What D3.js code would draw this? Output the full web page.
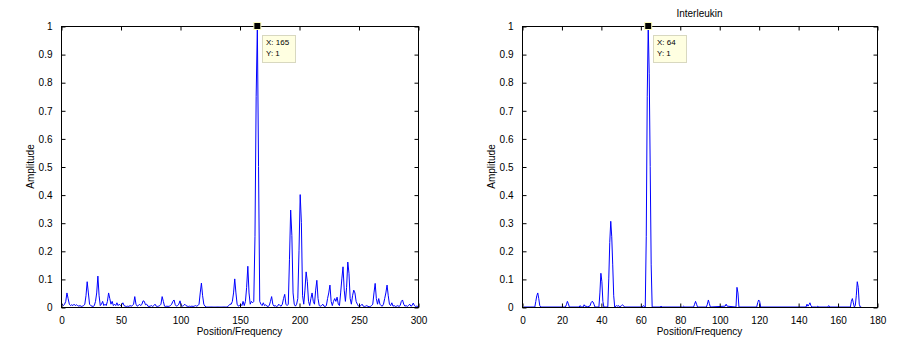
<!DOCTYPE html>
<html><head><meta charset="utf-8">
<script src="https://cdn.jsdelivr.net/npm/d3@7"></script>
<style>
html,body{margin:0;padding:0;background:#fff;}
svg{display:block;font-family:Arial,"Liberation Sans",Helvetica,sans-serif;}
</style></head>
<body>
<svg id="chart" width="922" height="344"></svg>
<script>
// ----- Data -----
const ampLeft = [
0.01,0.005,0.01,0.02,0.05,0.03,0.01,0.005,0.008,0.005,
0.01,0.005,0.008,0.005,0.003,0.005,0.002,0.003,0.005,0.01,
0.04,0.09,0.05,0.01,0.005,0.003,0.002,0.005,0.02,0.05,
0.11,0.04,0.005,0.01,0.02,0.005,0.01,0.005,0.02,0.05,
0.03,0.01,0.02,0.005,0.01,0.005,0.015,0.005,0.01,0.005,
0.008,0.015,0.005,0.003,0.002,0.003,0.002,0.005,0.003,0.005,
0.01,0.037,0.01,0.003,0.005,0.01,0.005,0.01,0.022,0.02,
0.008,0.01,0.003,0.002,0.003,0.005,0.002,0.005,0.01,0.003,
0.002,0.003,0.005,0.01,0.037,0.02,0.003,0.002,0.003,0.002,
0.003,0.005,0.01,0.02,0.025,0.008,0.003,0.005,0.01,0.022,
0.005,0.003,0.005,0.01,0.005,0.003,0.002,0.003,0.002,0.003,
0.002,0.003,0.005,0.003,0.005,0.01,0.05,0.085,0.04,0.01,
0.003,0,0,0,0,0,0,0,0,0,
0,0,0,0,0,0,0,0,0,0.002,
0.005,0.01,0.01,0.02,0.05,0.1,0.05,0.01,0.003,0.005,
0.01,0.005,0.02,0.005,0.02,0.07,0.145,0.05,0.01,0.02,
0.015,0.02,0.25,0.75,1,0.5,0.02,0.01,0.005,0.015,
0.005,0.008,0.003,0.002,0.005,0.02,0.037,0.01,0.003,0.005,
0.002,0.003,0.01,0.005,0.003,0.01,0.03,0.045,0.01,0.005,
0.01,0.17,0.345,0.255,0.05,0.01,0.003,0.01,0.03,0.2,
0.4,0.3,0.04,0.01,0.06,0.125,0.09,0.02,0.005,0.03,
0.05,0.02,0.01,0.06,0.095,0.03,0.005,0.003,0.005,0.01,
0.003,0.002,0.005,0.03,0.05,0.078,0.02,0.005,0.02,0.03,
0.02,0.035,0.01,0.005,0.05,0.1,0.143,0.06,0.02,0.07,
0.16,0.12,0.03,0.01,0.04,0.06,0.05,0.02,0.01,0.003,
0.002,0.005,0.01,0.003,0.002,0.003,0.005,0.002,0.001,0.002,
0.005,0.01,0.05,0.084,0.03,0.01,0.03,0.01,0.005,0.003,
0.01,0.03,0.05,0.078,0.04,0.01,0.005,0.015,0.003,0.005,
0.002,0.003,0.005,0.002,0.005,0.02,0.025,0.01,0.003,0.005,
0.002,0.005,0.01,0.003,0.005,0.014,0.005,0.002,0.003,0.002
];
const posLeft = ampLeft.map((_, i) => i + 1);

const posRight = [1,6.5,7,7.5,8,8.5,9,9.5,22,22.5,23,23.5,24,29,29.5,30,31,31.5,32,32.5,33,
34.5,35,35.5,36,36.5,37,39,39.5,40,40.5,41,41.5,43.5,44,44.5,45,45.5,46,46.5,47,48,48.5,49,49.5,
50.5,51,51.5,52,61,61.5,62,62.5,63,63.5,64,64.5,65,65.5,66,70,70.5,71,81.5,82,82.5,87,87.5,88,88.5,89,
93.5,94,94.5,95,95.5,103,103.5,104,108.5,109,109.5,110,119,119.5,120,120.5,121,144,144.5,145,145.5,146,146.5,147,
149.5,150,150.5,155,155.5,156,166.5,167,167.5,168,168.5,169,169.5,170,170.5,171,171.5,172];
const ampRight = [0,0,0.02,0.04,0.05,0.03,0.005,0,0,0.008,0.02,0.012,0,0,0.005,0,0,0.008,0.002,0.004,0,
0.004,0.015,0.02,0.018,0.01,0,0,0.05,0.12,0.09,0.02,0,0,0.1,0.23,0.305,0.25,0.15,0.04,0,0.005,0.003,0.005,0,
0.005,0.008,0.004,0,0,0.005,0.002,0,0.25,0.75,1,0.83,0.5,0.15,0,0,0.003,0,0,0.003,0,0,0.01,0.02,0.01,0,
0,0.01,0.025,0.012,0,0.003,0.01,0.003,0,0.07,0.05,0,0,0.015,0.025,0.02,0,0,0.01,0.003,0.008,0.015,0.005,0,
0,0.003,0,0,0.005,0,0,0.02,0.03,0.015,0,0.005,0.04,0.09,0.07,0.01,0,0];

const yTicks = [0,0.1,0.2,0.3,0.4,0.5,0.6,0.7,0.8,0.9,1];
const xTicksLeft = [0,50,100,150,200,250,300];
const xTicksRight = [0,20,40,60,80,100,120,140,160,180];
const tipLeft = {x:165, y:1};
const tipRight = {x:64, y:1};
const titleRight = "Interleukin";
const xLabel = "Position/Frequency";
const yLabel = "Amplitude";

// ----- Drawing -----
const svg = d3.select("#chart");

function panel(opt) {
  const {x0, x1, y0, y1, xmax, xTicks, xs, ys, tip, title} = opt;
  const x = d3.scaleLinear().domain([0, xmax]).range([x0, x1]);
  const y = d3.scaleLinear().domain([0, 1]).range([y1, y0]);
  const g = svg.append("g");
  const tl = 4;

  // data line
  const line = d3.line().x(d => x(d[0])).y(d => y(d[1]));
  g.append("path").datum(xs.map((v, i) => [v, ys[i]]))
    .attr("d", line).attr("fill", "none").attr("stroke", "#0000ff").attr("stroke-width", 1);

  // box
  g.append("rect").attr("x", x0 + 0.5).attr("y", y0 + 0.5)
    .attr("width", x1 - x0).attr("height", y1 - y0)
    .attr("fill", "none").attr("stroke", "#000").attr("stroke-width", 1);

  // axes via d3 axis (inward ticks)
  const axB = d3.axisBottom(x).tickValues(xTicks).tickSizeInner(-tl).tickSizeOuter(0).tickPadding(9).tickFormat(d3.format("d"));
  const gb = g.append("g").attr("transform", `translate(0.5,${y1 + 0.5})`).call(axB);
  const axT = d3.axisTop(x).tickValues(xTicks).tickSizeInner(-tl).tickSizeOuter(0).tickFormat("");
  const gt = g.append("g").attr("transform", `translate(0.5,${y0 + 0.5})`).call(axT);
  const axL = d3.axisLeft(y).tickValues(yTicks).tickSizeInner(-tl).tickSizeOuter(0).tickPadding(9).tickFormat(d => d3.format("")(+d.toFixed(1)));
  const gl = g.append("g").attr("transform", `translate(${x0 + 0.5},0.5)`).call(axL);
  const axR = d3.axisRight(y).tickValues(yTicks).tickSizeInner(-tl).tickSizeOuter(0).tickFormat("");
  const gr = g.append("g").attr("transform", `translate(${x1 + 0.5},0.5)`).call(axR);
  [gb, gt, gl, gr].forEach(a => {
    a.select(".domain").remove();
    a.selectAll("line").attr("stroke", "#000");
    a.selectAll("text").attr("fill", "#000").style("font-size", "10px")
      .style("font-family", "Arial, 'Liberation Sans', sans-serif");
  });

  // labels
  g.append("text").attr("x", (x0 + x1) / 2).attr("y", 335).attr("text-anchor", "middle")
    .style("font-size", "10px").text(xLabel);
  g.append("text").attr("transform", `translate(${x0 - 27},${(y0 + y1) / 2}) rotate(-90)`)
    .attr("text-anchor", "middle").style("font-size", "10px").text(yLabel);
  if (title) {
    g.append("text").attr("x", (x0 + x1) / 2).attr("y", 17).attr("text-anchor", "middle")
      .style("font-size", "10px").text(title);
  }

  // data tip
  const px = x(tip.x), py = y(tip.y);
  const bx = Math.round(px) + 5, by = py + 9;
  g.append("rect").attr("x", bx + 0.5).attr("y", by + 0.5).attr("width", 33).attr("height", 27)
    .attr("fill", "#ffffe1").attr("stroke", "#d8d8c0").attr("stroke-width", 1);
  g.append("text").attr("x", bx + 4).attr("y", by + 10).style("font-size", "8px").text("X: " + tip.x);
  g.append("text").attr("x", bx + 4).attr("y", by + 21).style("font-size", "8px").text("Y: " + tip.y);
  g.append("rect").attr("x", px - 3.5).attr("y", py - 3.5).attr("width", 7).attr("height", 7)
    .attr("fill", "#000").attr("stroke", "#ffffc0").attr("stroke-width", 1);
}

panel({x0: 61, x1: 418, y0: 26, y1: 307, xmax: 300, xTicks: xTicksLeft,
  xs: posLeft, ys: ampLeft, tip: tipLeft, title: null});
panel({x0: 522, x1: 877, y0: 26, y1: 307, xmax: 180, xTicks: xTicksRight,
  xs: posRight, ys: ampRight, tip: tipRight, title: titleRight});
</script>
</body></html>
